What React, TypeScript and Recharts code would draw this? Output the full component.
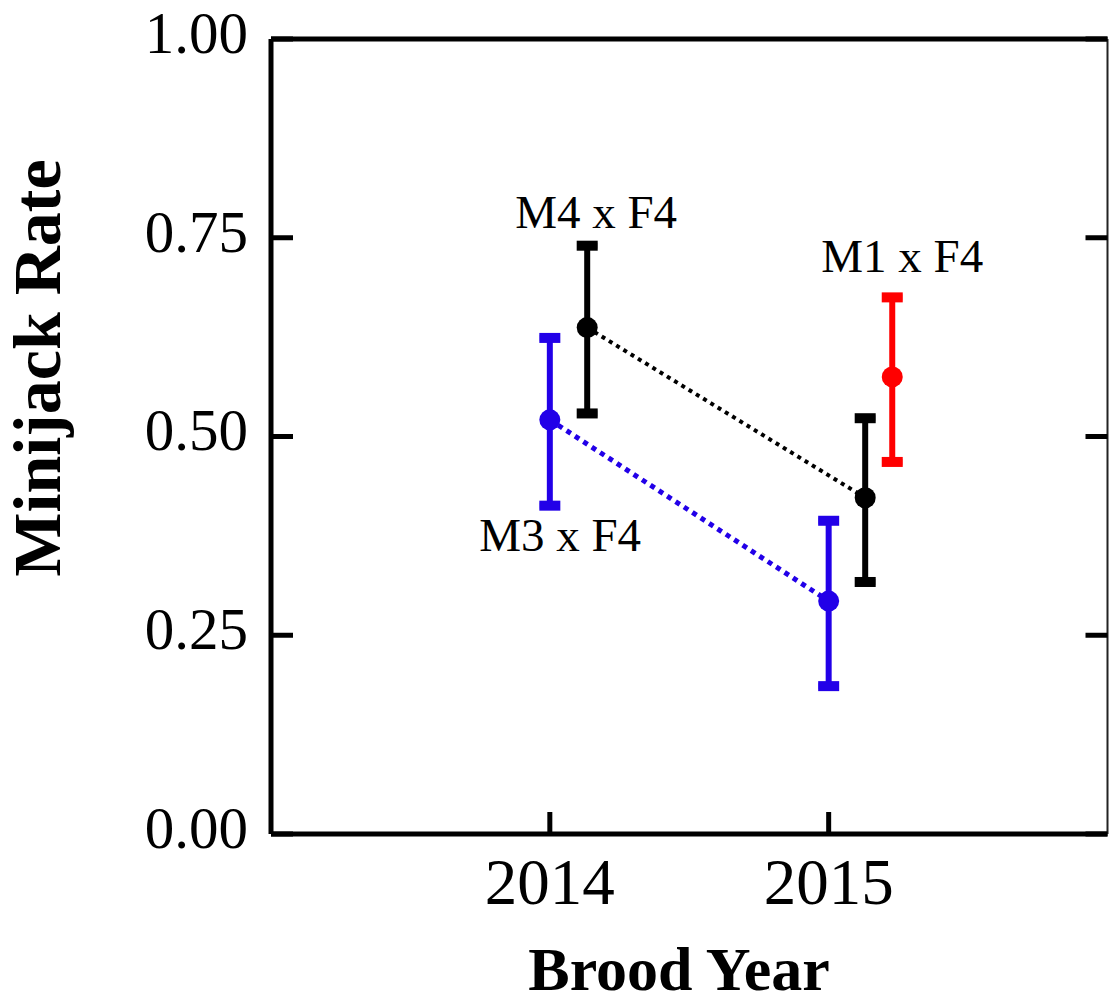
import React from 'react';
import { ComposedChart, Scatter, XAxis, YAxis, ErrorBar, ReferenceDot } from 'recharts';

const FONT = '"Liberation Serif", "Times New Roman", serif';
const BLUE = '#2200e8';
const RED = '#ff0000';
const BLACK = '#000000';

const yTicks = [0, 0.25, 0.5, 0.75, 1];
const xTicks = [2014, 2015];

// M3 x F4 (blue)
const blueYears = [2014, 2015];
const blueRates = [0.521, 0.293];
const blueLow = [0.413, 0.186];
const blueHigh = [0.624, 0.394];

// M4 x F4 (black)
const blackYears = [2014.134, 2015.131];
const blackRates = [0.637, 0.423];
const blackLow = [0.529, 0.317];
const blackHigh = [0.74, 0.523];

// M1 x F4 (red)
const redYears = [2015.228];
const redRates = [0.575];
const redLow = [0.468];
const redHigh = [0.675];

// annotation labels (data coordinates)
const labelTexts = ['M4 x F4', 'M1 x F4', 'M3 x F4'];
const labelYears = [2014.166, 2015.264, 2014.037];
const labelRates = [0.7626, 0.707, 0.3555];

const build = (xs: number[], ys: number[], lo: number[], hi: number[]) =>
  xs.map((x, i) => ({ x, y: ys[i], err: [ys[i] - lo[i], hi[i] - ys[i]] }));
const buildCaps = (xs: number[], lo: number[], hi: number[]) =>
  xs.flatMap((x, i) => [
    { x, y: lo[i] },
    { x, y: hi[i] },
  ]);

const blueData = build(blueYears, blueRates, blueLow, blueHigh);
const blackData = build(blackYears, blackRates, blackLow, blackHigh);
const redData = build(redYears, redRates, redLow, redHigh);
const blueCaps = buildCaps(blueYears, blueLow, blueHigh);
const blackCaps = buildCaps(blackYears, blackLow, blackHigh);
const redCaps = buildCaps(redYears, redLow, redHigh);

const dotShape = (color: string) => (p: any) =>
  <circle cx={p.cx} cy={p.cy} r={10.5} fill={color} />;
const capShape = (color: string) => (p: any) =>
  <rect x={p.cx - 10.5} y={p.cy - 5} width={21} height={10} fill={color} />;

const YTitle = () => (
  <text
    x={60}
    y={368}
    transform="rotate(-90 60 368)"
    textAnchor="middle"
    fontFamily={FONT}
    fontWeight="bold"
    fontSize={68}
    fill="#000"
  >
    Minijack Rate
  </text>
);

const XTitle = () => (
  <text
    x={679}
    y={990}
    textAnchor="middle"
    fontFamily={FONT}
    fontWeight="bold"
    fontSize={62}
    fill="#000"
  >
    Brood Year
  </text>
);

export default function App() {
  return (
    <div style={{ position: 'absolute', left: 0, top: 0, background: '#fff' }}>
      <ComposedChart
        width={1109}
        height={1004}
        margin={{ top: 38, right: 0.5, bottom: 0, left: 0 }}
      >
        <XAxis
          xAxisId="b"
          type="number"
          dataKey="x"
          domain={[2013, 2016]}
          ticks={xTicks}
          allowDataOverflow
          interval={0}
          height={170}
          tickSize={-22}
          tickMargin={46}
          axisLine={{ stroke: '#000', strokeWidth: 5 }}
          tickLine={{ stroke: '#000', strokeWidth: 5 }}
          tick={{ fontFamily: FONT, fontSize: 65, fill: '#000' }}
          label={<XTitle />}
        />
        <XAxis
          xAxisId="t"
          orientation="top"
          type="number"
          dataKey="x"
          domain={[2013, 2016]}
          allowDataOverflow
          height={1}
          tick={false}
          tickLine={false}
          axisLine={{ stroke: '#000', strokeWidth: 5 }}
        />
        <YAxis
          yAxisId="l"
          type="number"
          dataKey="y"
          domain={[0, 1]}
          ticks={yTicks}
          allowDataOverflow
          interval={0}
          width={271}
          tickSize={-22}
          tickMargin={45}
          tickFormatter={(v: number) => v.toFixed(2)}
          axisLine={{ stroke: '#000', strokeWidth: 5 }}
          tickLine={{ stroke: '#000', strokeWidth: 5 }}
          tick={{ fontFamily: FONT, fontSize: 59, fill: '#000', dy: -7 }}
          label={<YTitle />}
        />
        <YAxis
          yAxisId="r"
          orientation="right"
          type="number"
          dataKey="y"
          domain={[0, 1]}
          ticks={yTicks}
          allowDataOverflow
          interval={0}
          width={1}
          tickSize={-22}
          tickFormatter={() => ''}
          tick={{ fontSize: 1, fill: 'none' }}
          axisLine={{ stroke: '#222', strokeWidth: 2 }}
          tickLine={{ stroke: '#000', strokeWidth: 5 }}
        />

        <Scatter
          xAxisId="b"
          yAxisId="l"
          data={blackData}
          isAnimationActive={false}
          line={{ stroke: BLACK, strokeWidth: 4, strokeDasharray: '4 4.5' }}
          lineType="joint"
          shape={dotShape(BLACK)}
        >
          <ErrorBar dataKey="err" direction="y" width={10} strokeWidth={6} stroke={BLACK} isAnimationActive={false} />
        </Scatter>
        <Scatter
          xAxisId="b"
          yAxisId="l"
          data={blueData}
          isAnimationActive={false}
          line={{ stroke: BLUE, strokeWidth: 5, strokeDasharray: '5 5' }}
          lineType="joint"
          shape={dotShape(BLUE)}
        >
          <ErrorBar dataKey="err" direction="y" width={10} strokeWidth={6} stroke={BLUE} isAnimationActive={false} />
        </Scatter>
        <Scatter
          xAxisId="b"
          yAxisId="l"
          data={redData}
          isAnimationActive={false}
          shape={dotShape(RED)}
        >
          <ErrorBar dataKey="err" direction="y" width={10} strokeWidth={6} stroke={RED} isAnimationActive={false} />
        </Scatter>

        <Scatter xAxisId="b" yAxisId="l" data={blackCaps} isAnimationActive={false} shape={capShape(BLACK)} />
        <Scatter xAxisId="b" yAxisId="l" data={blueCaps} isAnimationActive={false} shape={capShape(BLUE)} />
        <Scatter xAxisId="b" yAxisId="l" data={redCaps} isAnimationActive={false} shape={capShape(RED)} />

        {labelTexts.map((t, i) => (
          <ReferenceDot
            key={t}
            xAxisId="b"
            yAxisId="l"
            x={labelYears[i]}
            y={labelRates[i]}
            r={0}
            ifOverflow="visible"
            shape={(p: any) => (
              <text
                x={p.cx}
                y={p.cy}
                textAnchor="middle"
                fontFamily={FONT}
                fontSize={47}
                fill="#000"
              >
                {t}
              </text>
            )}
          />
        ))}
      </ComposedChart>
    </div>
  );
}
